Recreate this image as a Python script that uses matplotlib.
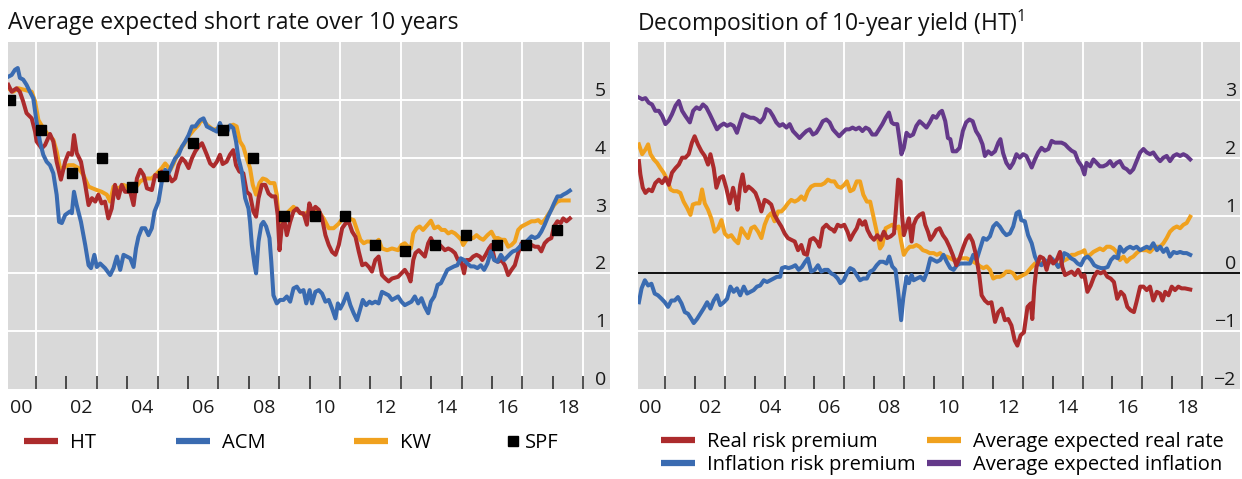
import matplotlib
matplotlib.use('Agg')
import matplotlib.pyplot as plt
from matplotlib.lines import Line2D

plt.rcParams['font.family'] = ['Open Sans', 'DejaVu Sans']
plt.rcParams['mathtext.default'] = 'regular'

# colours
RED = '#AC2B2C'
BLUE = '#3A6BB1'
ORANGE = '#F0A11E'
PURPLE = '#64398A'
BG = '#D9D9D9'

# ---- left panel: average expected short rate over 10 years (%) ----
ht = [(2000.09, 5.26), (2000.20, 5.14), (2000.36, 5.20), (2000.47, 5.14), (2000.58, 4.97), (2000.69, 4.77),
      (2000.86, 4.68), (2000.97, 4.45), (2001.02, 4.28), (2001.19, 4.16), (2001.30, 4.22), (2001.46, 4.41),
      (2001.57, 4.28), (2001.68, 3.93), (2001.82, 3.62), (2001.96, 3.93), (2002.07, 4.08), (2002.18, 4.05),
      (2002.25, 4.39), (2002.34, 4.08), (2002.48, 3.93), (2002.62, 3.53), (2002.73, 3.18), (2002.84, 3.30),
      (2002.95, 3.24), (2003.05, 3.36), (2003.16, 3.21), (2003.27, 3.24), (2003.38, 2.95), (2003.49, 3.12),
      (2003.60, 3.53), (2003.71, 3.30), (2003.82, 3.53), (2003.93, 3.41), (2004.10, 3.41), (2004.21, 3.18),
      (2004.32, 3.64), (2004.43, 3.79), (2004.54, 3.70), (2004.65, 3.47), (2004.81, 3.44), (2004.92, 3.70),
      (2005.03, 3.67), (2005.14, 3.76), (2005.25, 3.62), (2005.36, 3.70), (2005.47, 3.59), (2005.58, 3.64),
      (2005.69, 3.87), (2005.80, 3.99), (2005.91, 3.93), (2006.02, 3.82), (2006.13, 3.99), (2006.24, 4.11),
      (2006.35, 4.19), (2006.46, 4.25), (2006.51, 4.19), (2006.62, 4.05), (2006.73, 3.90), (2006.84, 3.85),
      (2006.95, 3.93), (2007.05, 4.05), (2007.14, 3.89), (2007.27, 3.93), (2007.38, 4.05), (2007.49, 4.13),
      (2007.58, 3.87), (2007.69, 3.76), (2007.82, 3.73), (2007.93, 3.41), (2008.04, 3.36), (2008.15, 3.07),
      (2008.24, 2.98), (2008.32, 3.30), (2008.43, 3.53), (2008.54, 3.53), (2008.65, 3.38), (2008.76, 3.33),
      (2008.87, 3.33), (2008.95, 3.01), (2009.01, 2.40), (2009.09, 2.84), (2009.18, 2.89), (2009.25, 2.66),
      (2009.36, 2.89), (2009.47, 3.07), (2009.58, 3.12), (2009.69, 3.04), (2009.80, 3.04), (2009.91, 2.84),
      (2009.99, 3.21), (2010.08, 3.07), (2010.19, 3.15), (2010.30, 3.10), (2010.41, 2.95), (2010.52, 2.66),
      (2010.63, 2.49), (2010.74, 2.37), (2010.85, 2.32), (2010.96, 2.49), (2011.07, 2.78), (2011.18, 2.86),
      (2011.29, 2.89), (2011.40, 2.72), (2011.51, 2.63), (2011.62, 2.37), (2011.73, 2.14), (2011.84, 2.17),
      (2011.95, 2.11), (2012.05, 2.03), (2012.16, 2.23), (2012.27, 2.29), (2012.38, 1.97), (2012.49, 1.91),
      (2012.60, 1.86), (2012.71, 1.91), (2012.91, 1.94), (2013.02, 2.00), (2013.13, 2.06), (2013.24, 1.97),
      (2013.32, 1.86), (2013.41, 2.23), (2013.48, 2.35), (2013.59, 2.40), (2013.68, 2.35), (2013.79, 2.29),
      (2013.90, 2.52), (2013.99, 2.61), (2014.10, 2.49), (2014.23, 2.52), (2014.34, 2.46), (2014.45, 2.40),
      (2014.56, 2.43), (2014.67, 2.40), (2014.78, 2.35), (2014.88, 2.23), (2014.99, 2.20), (2015.08, 2.00),
      (2015.16, 2.23), (2015.27, 2.23), (2015.38, 2.29), (2015.49, 2.32), (2015.60, 2.29), (2015.68, 2.23),
      (2015.79, 2.32), (2015.90, 2.43), (2015.98, 2.49), (2016.09, 2.23), (2016.20, 2.20), (2016.31, 2.23),
      (2016.42, 2.14), (2016.53, 1.97), (2016.64, 2.06), (2016.75, 2.14), (2016.86, 2.35), (2016.97, 2.52),
      (2017.08, 2.49), (2017.19, 2.52), (2017.30, 2.49), (2017.41, 2.46), (2017.52, 2.46), (2017.62, 2.38),
      (2017.73, 2.52), (2017.84, 2.58), (2017.95, 2.61), (2018.04, 2.81), (2018.15, 2.90), (2018.26, 2.87),
      (2018.34, 2.95), (2018.45, 2.90), (2018.56, 2.95)]

acm = [(2000.09, 5.40), (2000.20, 5.43), (2000.31, 5.52), (2000.40, 5.55), (2000.47, 5.38), (2000.58, 5.35),
       (2000.69, 5.26), (2000.80, 5.14), (2000.91, 5.03), (2001.02, 4.62), (2001.13, 4.28), (2001.24, 4.05),
       (2001.35, 3.93), (2001.46, 3.87), (2001.57, 3.73), (2001.68, 3.36), (2001.76, 2.89), (2001.85, 2.87),
       (2001.96, 3.01), (2002.12, 3.07), (2002.18, 3.04), (2002.25, 3.41), (2002.34, 3.18), (2002.48, 2.89),
       (2002.62, 2.49), (2002.73, 2.14), (2002.81, 2.09), (2002.92, 2.32), (2003.00, 2.11), (2003.11, 2.17),
       (2003.27, 2.09), (2003.44, 1.97), (2003.55, 2.09), (2003.66, 2.29), (2003.77, 2.06), (2003.88, 2.32),
       (2003.99, 2.29), (2004.10, 2.26), (2004.21, 2.11), (2004.29, 2.43), (2004.37, 2.63), (2004.48, 2.78),
       (2004.59, 2.78), (2004.70, 2.66), (2004.81, 2.78), (2004.90, 3.07), (2005.03, 3.24), (2005.14, 3.59),
       (2005.25, 3.79), (2005.36, 3.73), (2005.47, 3.87), (2005.58, 3.99), (2005.69, 4.05), (2005.80, 4.19),
       (2005.91, 4.28), (2006.02, 4.39), (2006.13, 4.54), (2006.24, 4.54), (2006.35, 4.62), (2006.40, 4.65),
       (2006.51, 4.68), (2006.62, 4.54), (2006.73, 4.51), (2006.84, 4.48), (2006.95, 4.45), (2007.05, 4.60),
       (2007.16, 4.45), (2007.27, 4.42), (2007.38, 4.56), (2007.49, 4.51), (2007.58, 4.28), (2007.66, 3.99),
       (2007.77, 3.76), (2007.88, 3.30), (2007.99, 3.12), (2008.04, 2.89), (2008.10, 2.49), (2008.19, 2.14),
       (2008.24, 2.00), (2008.32, 2.55), (2008.41, 2.84), (2008.48, 2.89), (2008.57, 2.81), (2008.68, 2.61),
       (2008.74, 2.20), (2008.81, 1.62), (2008.92, 1.48), (2009.03, 1.54), (2009.14, 1.54), (2009.25, 1.60),
       (2009.36, 1.51), (2009.47, 1.74), (2009.58, 1.77), (2009.69, 1.68), (2009.80, 1.71), (2009.89, 1.48),
       (2010.00, 1.71), (2010.08, 1.48), (2010.19, 1.68), (2010.30, 1.71), (2010.41, 1.65), (2010.52, 1.51),
       (2010.63, 1.54), (2010.74, 1.39), (2010.85, 1.22), (2010.93, 1.48), (2011.01, 1.39), (2011.10, 1.48),
       (2011.23, 1.65), (2011.34, 1.45), (2011.45, 1.31), (2011.56, 1.19), (2011.67, 1.39), (2011.75, 1.54),
       (2011.86, 1.45), (2011.97, 1.51), (2012.05, 1.48), (2012.16, 1.51), (2012.27, 1.48), (2012.38, 1.68),
       (2012.49, 1.65), (2012.60, 1.62), (2012.71, 1.54), (2012.91, 1.60), (2013.02, 1.51), (2013.13, 1.45),
       (2013.24, 1.48), (2013.35, 1.51), (2013.46, 1.60), (2013.57, 1.48), (2013.68, 1.57), (2013.79, 1.42),
       (2013.90, 1.31), (2013.99, 1.51), (2014.10, 1.60), (2014.21, 1.80), (2014.32, 1.83), (2014.42, 1.94),
       (2014.53, 2.06), (2014.64, 2.09), (2014.75, 2.12), (2014.86, 2.14), (2014.97, 2.26), (2015.08, 2.23),
       (2015.19, 2.17), (2015.30, 2.12), (2015.41, 2.12), (2015.52, 2.09), (2015.63, 2.14), (2015.74, 2.06),
       (2015.85, 2.17), (2015.96, 2.38), (2016.07, 2.23), (2016.18, 2.20), (2016.29, 2.32), (2016.40, 2.23),
       (2016.51, 2.29), (2016.62, 2.35), (2016.69, 2.38), (2016.80, 2.40), (2016.97, 2.49), (2017.08, 2.52),
       (2017.19, 2.58), (2017.30, 2.64), (2017.41, 2.61), (2017.52, 2.64), (2017.62, 2.72), (2017.73, 2.84),
       (2017.84, 2.98), (2017.95, 3.10), (2018.04, 3.21), (2018.15, 3.33), (2018.26, 3.33), (2018.34, 3.36),
       (2018.45, 3.39), (2018.56, 3.43)]

kw = [(2000.09, 5.20), (2000.25, 5.14), (2000.42, 5.20), (2000.64, 5.17), (2000.86, 5.14), (2000.97, 4.97),
      (2001.08, 4.65), (2001.24, 4.51), (2001.41, 4.39), (2001.57, 4.31), (2001.68, 4.11), (2001.79, 3.82),
      (2001.90, 3.82), (2002.07, 3.87), (2002.23, 3.87), (2002.40, 3.82), (2002.56, 3.70), (2002.73, 3.50),
      (2002.86, 3.47), (2003.00, 3.44), (2003.16, 3.41), (2003.33, 3.36), (2003.44, 3.24), (2003.55, 3.50),
      (2003.71, 3.47), (2003.88, 3.53), (2003.99, 3.50), (2004.15, 3.36), (2004.26, 3.47), (2004.43, 3.59),
      (2004.59, 3.64), (2004.81, 3.64), (2004.98, 3.73), (2005.14, 3.82), (2005.25, 3.90), (2005.42, 3.79),
      (2005.53, 3.90), (2005.69, 4.11), (2005.86, 4.22), (2006.02, 4.37), (2006.19, 4.48), (2006.35, 4.57),
      (2006.40, 4.62), (2006.51, 4.65), (2006.62, 4.57), (2006.84, 4.48), (2007.00, 4.51), (2007.16, 4.45),
      (2007.33, 4.54), (2007.49, 4.57), (2007.60, 4.54), (2007.71, 4.28), (2007.82, 4.19), (2007.93, 3.99),
      (2008.04, 3.82), (2008.13, 3.53), (2008.24, 3.36), (2008.35, 3.56), (2008.46, 3.64), (2008.57, 3.62),
      (2008.70, 3.56), (2008.84, 3.56), (2008.92, 3.36), (2008.99, 2.89), (2009.09, 2.92), (2009.20, 3.01),
      (2009.31, 3.07), (2009.47, 3.15), (2009.64, 3.07), (2009.80, 3.01), (2009.97, 3.07), (2010.13, 3.10),
      (2010.30, 3.07), (2010.46, 2.95), (2010.63, 2.78), (2010.79, 2.78), (2010.96, 2.86), (2011.12, 2.98),
      (2011.29, 2.95), (2011.45, 2.92), (2011.56, 2.75), (2011.67, 2.58), (2011.78, 2.52), (2011.89, 2.55),
      (2012.00, 2.55), (2012.11, 2.49), (2012.27, 2.58), (2012.38, 2.43), (2012.55, 2.40), (2012.71, 2.43),
      (2012.91, 2.40), (2013.02, 2.49), (2013.13, 2.52), (2013.24, 2.46), (2013.33, 2.43), (2013.41, 2.69),
      (2013.52, 2.78), (2013.62, 2.81), (2013.73, 2.75), (2013.88, 2.84), (2013.99, 2.91), (2014.10, 2.78),
      (2014.23, 2.81), (2014.34, 2.75), (2014.45, 2.75), (2014.56, 2.69), (2014.67, 2.72), (2014.78, 2.69),
      (2014.88, 2.64), (2014.99, 2.58), (2015.05, 2.49), (2015.16, 2.58), (2015.27, 2.61), (2015.38, 2.61),
      (2015.49, 2.66), (2015.60, 2.61), (2015.71, 2.58), (2015.85, 2.66), (2015.98, 2.72), (2016.09, 2.61),
      (2016.20, 2.61), (2016.31, 2.58), (2016.42, 2.58), (2016.53, 2.46), (2016.64, 2.49), (2016.75, 2.55),
      (2016.86, 2.75), (2016.97, 2.81), (2017.08, 2.84), (2017.19, 2.87), (2017.30, 2.90), (2017.41, 2.90),
      (2017.52, 2.92), (2017.62, 2.87), (2017.73, 2.92), (2017.84, 3.01), (2017.95, 3.10), (2018.04, 3.18),
      (2018.15, 3.24), (2018.26, 3.26), (2018.39, 3.26), (2018.52, 3.26)]

spf_dates = [2000.15, 2001.15, 2002.18, 2003.16, 2004.15, 2005.18, 2006.16, 2007.14, 2008.15, 2009.16,
             2010.19, 2011.18, 2012.16, 2013.15, 2014.14, 2015.16, 2016.15, 2017.13, 2018.15]
spf_values = [5.0, 4.48, 3.74, 4.0, 3.5, 3.69, 4.25, 4.48, 4.0, 3.0,
              3.0, 3.0, 2.49, 2.39, 2.49, 2.66, 2.49, 2.49, 2.75]

# ---- right panel: decomposition of 10-year yield (HT), percentage points ----
real_rp = [(2000.11, 1.94), (2000.16, 1.71), (2000.24, 1.48), (2000.33, 1.39), (2000.44, 1.45), (2000.55, 1.42),
           (2000.66, 1.56), (2000.78, 1.62), (2000.89, 1.56), (2001.00, 1.65), (2001.11, 1.53), (2001.22, 1.74),
           (2001.34, 1.82), (2001.45, 1.88), (2001.56, 2.00), (2001.67, 2.00), (2001.78, 2.06), (2001.89, 2.26),
           (2001.98, 2.37), (2002.09, 2.23), (2002.21, 2.11), (2002.32, 2.03), (2002.43, 1.88), (2002.51, 2.06),
           (2002.62, 1.82), (2002.71, 1.48), (2002.82, 1.65), (2002.93, 1.68), (2003.04, 1.48), (2003.16, 1.21),
           (2003.27, 1.48), (2003.35, 1.30), (2003.42, 1.10), (2003.51, 1.53), (2003.59, 1.71), (2003.68, 1.42),
           (2003.79, 1.50), (2003.91, 1.45), (2004.02, 1.39), (2004.13, 1.24), (2004.22, 1.07), (2004.33, 1.27),
           (2004.44, 1.24), (2004.55, 1.19), (2004.66, 1.01), (2004.78, 0.90), (2004.89, 0.81), (2005.00, 0.69),
           (2005.11, 0.61), (2005.22, 0.58), (2005.34, 0.55), (2005.45, 0.40), (2005.56, 0.49), (2005.65, 0.34),
           (2005.75, 0.32), (2005.86, 0.58), (2005.97, 0.61), (2006.08, 0.55), (2006.17, 0.46), (2006.28, 0.78),
           (2006.40, 0.84), (2006.51, 0.78), (2006.62, 0.75), (2006.67, 0.72), (2006.78, 0.84), (2006.89, 0.81),
           (2007.00, 0.84), (2007.11, 0.72), (2007.20, 0.58), (2007.31, 0.69), (2007.42, 0.78), (2007.51, 0.92),
           (2007.61, 0.84), (2007.70, 0.90), (2007.78, 0.75), (2007.89, 0.64), (2008.00, 0.58), (2008.11, 0.66),
           (2008.22, 0.58), (2008.33, 0.72), (2008.44, 0.61), (2008.56, 0.64), (2008.67, 0.69), (2008.74, 1.13),
           (2008.81, 1.62), (2008.89, 1.59), (2008.94, 1.01), (2009.00, 0.66), (2009.09, 0.81), (2009.17, 0.95),
           (2009.26, 0.55), (2009.33, 0.84), (2009.42, 0.95), (2009.53, 1.01), (2009.64, 1.04), (2009.72, 0.84),
           (2009.81, 0.72), (2009.89, 0.58), (2010.00, 0.66), (2010.09, 0.75), (2010.20, 0.78), (2010.31, 0.66),
           (2010.42, 0.58), (2010.53, 0.46), (2010.64, 0.32), (2010.76, 0.14), (2010.87, 0.26), (2010.98, 0.43),
           (2011.09, 0.58), (2011.20, 0.66), (2011.31, 0.55), (2011.42, 0.32), (2011.53, -0.03), (2011.61, -0.38),
           (2011.72, -0.47), (2011.83, -0.52), (2011.94, -0.50), (2012.06, -0.84), (2012.17, -0.67), (2012.28, -0.61),
           (2012.39, -0.81), (2012.50, -0.79), (2012.61, -0.90), (2012.72, -1.16), (2012.81, -1.25), (2012.92, -1.07),
           (2013.03, -1.02), (2013.15, -0.58), (2013.26, -0.52), (2013.31, -0.79), (2013.38, -0.23), (2013.45, 0.11),
           (2013.57, 0.29), (2013.68, 0.26), (2013.79, 0.06), (2013.90, 0.29), (2014.01, 0.17), (2014.13, 0.23),
           (2014.24, 0.37), (2014.32, 0.11), (2014.41, -0.03), (2014.52, 0.00), (2014.63, 0.03), (2014.74, -0.03),
           (2014.85, 0.06), (2014.97, -0.06), (2015.06, -0.03), (2015.16, -0.32), (2015.27, -0.21), (2015.38, -0.06),
           (2015.49, 0.03), (2015.60, 0.00), (2015.72, 0.03), (2015.83, -0.06), (2015.94, -0.09), (2016.05, -0.15),
           (2016.16, -0.44), (2016.28, -0.32), (2016.39, -0.38), (2016.50, -0.58), (2016.61, -0.64), (2016.72, -0.67),
           (2016.81, -0.49), (2016.93, -0.23), (2017.04, -0.23), (2017.15, -0.29), (2017.26, -0.23), (2017.37, -0.47),
           (2017.49, -0.32), (2017.60, -0.35), (2017.68, -0.47), (2017.77, -0.32), (2017.88, -0.38), (2017.99, -0.23),
           (2018.10, -0.29), (2018.21, -0.23), (2018.32, -0.26), (2018.43, -0.26), (2018.61, -0.28)]

infl_rp = [(2000.11, -0.50), (2000.20, -0.26), (2000.31, -0.12), (2000.42, -0.21), (2000.53, -0.18), (2000.64, -0.35),
           (2000.75, -0.38), (2000.87, -0.44), (2000.98, -0.50), (2001.09, -0.58), (2001.20, -0.47), (2001.31, -0.47),
           (2001.42, -0.41), (2001.54, -0.52), (2001.65, -0.67), (2001.76, -0.70), (2001.87, -0.79), (2001.95, -0.86),
           (2002.06, -0.79), (2002.17, -0.70), (2002.28, -0.61), (2002.40, -0.50), (2002.51, -0.61), (2002.62, -0.47),
           (2002.73, -0.38), (2002.84, -0.55), (2002.96, -0.50), (2003.07, -0.44), (2003.18, -0.23), (2003.29, -0.32),
           (2003.40, -0.26), (2003.51, -0.38), (2003.63, -0.23), (2003.74, -0.35), (2003.85, -0.32), (2003.96, -0.29),
           (2004.07, -0.23), (2004.18, -0.21), (2004.30, -0.12), (2004.41, -0.15), (2004.52, -0.12), (2004.63, -0.09),
           (2004.74, -0.06), (2004.85, -0.06), (2004.91, 0.09), (2005.02, 0.11), (2005.13, 0.09), (2005.25, 0.11),
           (2005.36, 0.14), (2005.47, 0.06), (2005.58, 0.11), (2005.69, 0.20), (2005.78, 0.26), (2005.89, 0.03),
           (2006.01, 0.06), (2006.12, 0.14), (2006.23, 0.03), (2006.34, 0.06), (2006.45, 0.06), (2006.56, 0.00),
           (2006.67, -0.03), (2006.78, -0.09), (2006.87, -0.17), (2006.98, -0.12), (2007.09, 0.00), (2007.20, 0.09),
           (2007.31, 0.06), (2007.42, -0.03), (2007.53, -0.12), (2007.64, -0.09), (2007.76, -0.09), (2007.87, 0.03),
           (2007.98, 0.06), (2008.09, 0.14), (2008.20, 0.20), (2008.31, 0.20), (2008.42, 0.17), (2008.51, 0.29),
           (2008.61, 0.12), (2008.72, 0.06), (2008.81, -0.32), (2008.91, -0.81), (2008.98, -0.43), (2009.09, -0.06),
           (2009.17, -0.17), (2009.26, -0.03), (2009.33, -0.12), (2009.44, -0.09), (2009.56, -0.06), (2009.67, -0.12),
           (2009.78, 0.03), (2009.89, 0.26), (2010.00, 0.23), (2010.11, 0.20), (2010.22, 0.23), (2010.33, 0.32),
           (2010.44, 0.20), (2010.56, 0.09), (2010.67, 0.06), (2010.78, 0.14), (2010.89, 0.17), (2011.00, 0.17),
           (2011.11, 0.17), (2011.22, 0.17), (2011.33, 0.32), (2011.44, 0.23), (2011.56, 0.43), (2011.67, 0.61),
           (2011.78, 0.58), (2011.89, 0.64), (2012.00, 0.81), (2012.11, 0.87), (2012.22, 0.81), (2012.33, 0.72),
           (2012.44, 0.66), (2012.56, 0.69), (2012.67, 0.81), (2012.78, 1.04), (2012.87, 1.07), (2012.94, 0.92),
           (2013.06, 0.90), (2013.17, 0.66), (2013.29, 0.52), (2013.40, 0.29), (2013.51, 0.17), (2013.62, 0.14),
           (2013.73, 0.23), (2013.85, 0.17), (2013.96, 0.26), (2014.07, 0.20), (2014.18, 0.11), (2014.29, 0.17),
           (2014.38, 0.35), (2014.50, 0.32), (2014.61, 0.26), (2014.72, 0.23), (2014.83, 0.17), (2014.94, 0.14),
           (2015.06, 0.26), (2015.17, 0.29), (2015.28, 0.23), (2015.39, 0.14), (2015.50, 0.11), (2015.62, 0.09),
           (2015.73, 0.09), (2015.84, 0.11), (2015.95, 0.23), (2016.06, 0.29), (2016.18, 0.26), (2016.25, 0.46),
           (2016.37, 0.37), (2016.48, 0.43), (2016.59, 0.46), (2016.70, 0.43), (2016.81, 0.46), (2016.93, 0.40),
           (2017.04, 0.43), (2017.15, 0.46), (2017.26, 0.43), (2017.37, 0.52), (2017.49, 0.40), (2017.60, 0.46),
           (2017.71, 0.37), (2017.82, 0.43), (2017.93, 0.29), (2018.05, 0.37), (2018.16, 0.35), (2018.27, 0.37),
           (2018.38, 0.35), (2018.49, 0.35), (2018.61, 0.32)]

exp_real = [(2000.11, 2.23), (2000.22, 2.06), (2000.33, 2.14), (2000.42, 2.23), (2000.50, 2.06), (2000.61, 1.97),
            (2000.72, 1.91), (2000.83, 1.82), (2000.94, 1.74), (2001.06, 1.62), (2001.17, 1.45), (2001.28, 1.42),
            (2001.39, 1.42), (2001.50, 1.39), (2001.61, 1.24), (2001.73, 1.13), (2001.84, 1.01), (2001.92, 1.19),
            (2002.03, 1.21), (2002.14, 1.21), (2002.23, 1.45), (2002.32, 1.21), (2002.43, 1.10), (2002.54, 0.95),
            (2002.65, 0.72), (2002.77, 0.78), (2002.88, 0.92), (2002.99, 0.69), (2003.10, 0.63), (2003.21, 0.66),
            (2003.32, 0.58), (2003.44, 0.52), (2003.55, 0.78), (2003.66, 0.69), (2003.77, 0.61), (2003.88, 0.78),
            (2003.99, 0.81), (2004.11, 0.72), (2004.22, 0.61), (2004.33, 0.84), (2004.44, 0.98), (2004.55, 1.04),
            (2004.66, 0.90), (2004.78, 1.07), (2004.89, 1.07), (2005.00, 1.13), (2005.11, 1.21), (2005.22, 1.27),
            (2005.34, 1.24), (2005.45, 1.27), (2005.56, 1.33), (2005.67, 1.27), (2005.78, 1.42), (2005.89, 1.50),
            (2006.01, 1.53), (2006.12, 1.53), (2006.23, 1.53), (2006.34, 1.56), (2006.45, 1.62), (2006.56, 1.59),
            (2006.67, 1.59), (2006.78, 1.50), (2006.89, 1.48), (2007.00, 1.53), (2007.09, 1.59), (2007.20, 1.42),
            (2007.31, 1.45), (2007.42, 1.59), (2007.53, 1.59), (2007.64, 1.36), (2007.76, 1.24), (2007.87, 1.24),
            (2007.98, 0.98), (2008.09, 0.72), (2008.20, 0.43), (2008.28, 0.49), (2008.39, 0.78), (2008.50, 0.81),
            (2008.61, 0.84), (2008.72, 0.78), (2008.83, 0.81), (2008.91, 0.55), (2009.00, 0.32), (2009.09, 0.40),
            (2009.20, 0.46), (2009.31, 0.46), (2009.42, 0.49), (2009.53, 0.46), (2009.64, 0.40), (2009.76, 0.38),
            (2009.87, 0.35), (2010.00, 0.35), (2010.11, 0.32), (2010.22, 0.35), (2010.33, 0.29), (2010.44, 0.29),
            (2010.56, 0.26), (2010.67, 0.23), (2010.78, 0.23), (2010.89, 0.26), (2011.00, 0.26), (2011.11, 0.26),
            (2011.22, 0.23), (2011.33, 0.20), (2011.44, 0.17), (2011.56, 0.12), (2011.67, 0.09), (2011.78, 0.12),
            (2011.89, 0.06), (2012.00, -0.09), (2012.11, -0.06), (2012.22, -0.06), (2012.33, -0.03), (2012.44, 0.03),
            (2012.56, 0.03), (2012.67, 0.00), (2012.78, -0.09), (2012.89, -0.06), (2013.00, -0.03), (2013.11, 0.00),
            (2013.29, 0.11), (2013.40, 0.17), (2013.51, 0.20), (2013.62, 0.17), (2013.73, 0.20), (2013.85, 0.17),
            (2013.96, 0.23), (2014.07, 0.20), (2014.18, 0.11), (2014.29, 0.20), (2014.41, 0.23), (2014.52, 0.26),
            (2014.63, 0.32), (2014.74, 0.32), (2014.85, 0.35), (2014.97, 0.37), (2015.06, 0.40), (2015.13, 0.29),
            (2015.25, 0.32), (2015.36, 0.37), (2015.47, 0.40), (2015.58, 0.43), (2015.69, 0.40), (2015.81, 0.46),
            (2015.92, 0.46), (2016.03, 0.43), (2016.14, 0.37), (2016.25, 0.23), (2016.37, 0.29), (2016.48, 0.20),
            (2016.59, 0.26), (2016.70, 0.29), (2016.81, 0.35), (2016.93, 0.40), (2017.04, 0.40), (2017.15, 0.40),
            (2017.26, 0.37), (2017.37, 0.43), (2017.49, 0.46), (2017.60, 0.46), (2017.71, 0.52), (2017.82, 0.61),
            (2017.93, 0.72), (2018.05, 0.78), (2018.16, 0.81), (2018.27, 0.78), (2018.38, 0.84), (2018.49, 0.87),
            (2018.61, 0.98)]

exp_infl = [(2000.11, 3.04), (2000.22, 3.01), (2000.33, 3.03), (2000.44, 2.95), (2000.55, 2.92), (2000.66, 2.81),
            (2000.78, 2.81), (2000.89, 2.72), (2001.00, 2.58), (2001.11, 2.64), (2001.22, 2.75), (2001.34, 2.90),
            (2001.45, 2.98), (2001.56, 2.81), (2001.67, 2.72), (2001.82, 2.61), (2001.93, 2.81), (2002.04, 2.87),
            (2002.15, 2.84), (2002.26, 2.92), (2002.37, 2.87), (2002.49, 2.75), (2002.60, 2.63), (2002.73, 2.49),
            (2002.84, 2.55), (2002.96, 2.59), (2003.07, 2.55), (2003.18, 2.58), (2003.29, 2.55), (2003.40, 2.43),
            (2003.51, 2.61), (2003.60, 2.75), (2003.72, 2.72), (2003.85, 2.69), (2003.96, 2.69), (2004.07, 2.66),
            (2004.18, 2.61), (2004.30, 2.69), (2004.39, 2.84), (2004.50, 2.81), (2004.61, 2.72), (2004.72, 2.61),
            (2004.83, 2.55), (2004.94, 2.58), (2005.06, 2.52), (2005.17, 2.58), (2005.28, 2.46), (2005.39, 2.40),
            (2005.50, 2.34), (2005.61, 2.40), (2005.73, 2.46), (2005.84, 2.49), (2005.95, 2.40), (2006.06, 2.43),
            (2006.17, 2.52), (2006.28, 2.63), (2006.40, 2.66), (2006.51, 2.61), (2006.62, 2.49), (2006.67, 2.46),
            (2006.83, 2.37), (2006.94, 2.43), (2007.06, 2.49), (2007.17, 2.49), (2007.28, 2.52), (2007.39, 2.49),
            (2007.50, 2.52), (2007.61, 2.46), (2007.72, 2.52), (2007.83, 2.49), (2007.94, 2.40), (2008.06, 2.40),
            (2008.17, 2.49), (2008.28, 2.58), (2008.39, 2.69), (2008.50, 2.78), (2008.59, 2.61), (2008.67, 2.58),
            (2008.78, 2.58), (2008.87, 2.26), (2008.92, 2.06), (2009.00, 2.17), (2009.09, 2.43), (2009.20, 2.37),
            (2009.31, 2.40), (2009.42, 2.55), (2009.53, 2.63), (2009.64, 2.58), (2009.76, 2.52), (2009.87, 2.61),
            (2009.98, 2.72), (2010.09, 2.69), (2010.20, 2.78), (2010.28, 2.81), (2010.39, 2.63), (2010.48, 2.34),
            (2010.56, 2.32), (2010.64, 2.11), (2010.76, 2.11), (2010.87, 2.17), (2010.98, 2.46), (2011.09, 2.61),
            (2011.20, 2.66), (2011.31, 2.63), (2011.42, 2.46), (2011.53, 2.37), (2011.64, 2.23), (2011.72, 2.03),
            (2011.83, 2.11), (2011.94, 2.06), (2012.06, 2.11), (2012.17, 2.26), (2012.24, 2.32), (2012.33, 2.08),
            (2012.44, 1.91), (2012.56, 1.82), (2012.67, 1.91), (2012.78, 2.06), (2012.89, 2.00), (2013.00, 2.06),
            (2013.11, 2.03), (2013.29, 1.83), (2013.40, 1.97), (2013.51, 2.09), (2013.62, 2.17), (2013.73, 2.12),
            (2013.85, 2.15), (2013.96, 2.29), (2014.07, 2.26), (2014.18, 2.26), (2014.29, 2.26), (2014.41, 2.23),
            (2014.52, 2.17), (2014.63, 2.12), (2014.74, 2.09), (2014.85, 1.94), (2014.97, 1.85), (2015.06, 1.71),
            (2015.13, 1.91), (2015.25, 1.85), (2015.36, 1.97), (2015.47, 1.91), (2015.58, 1.85), (2015.69, 1.85),
            (2015.81, 1.88), (2015.92, 1.94), (2016.03, 1.85), (2016.14, 1.91), (2016.25, 1.94), (2016.37, 1.83),
            (2016.48, 1.80), (2016.59, 1.74), (2016.70, 1.80), (2016.81, 1.94), (2016.93, 2.09), (2017.04, 2.15),
            (2017.15, 2.09), (2017.26, 2.06), (2017.37, 2.09), (2017.49, 2.00), (2017.60, 1.94), (2017.71, 2.00),
            (2017.82, 2.03), (2017.93, 1.94), (2018.05, 2.03), (2018.16, 2.06), (2018.27, 2.03), (2018.38, 2.06),
            (2018.49, 2.03), (2018.61, 1.97)]

year_labels = ['00', '02', '04', '06', '08', '10', '12', '14', '16', '18']
left_yticks = [0, 1, 2, 3, 4, 5]
right_yticks = [-2, -1, 0, 1, 2, 3]

FS = 14          # tick labels
LEG_FS = 14.5    # legend
TITLE_FS = 16.5
W, H = 1242, 479


def unzip(pairs):
    return [p[0] for p in pairs], [p[1] for p in pairs]


def style_panel(ax, xmax, ylim, yticks, zero_line=False):
    ax.set_facecolor(BG)
    for s in ax.spines.values():
        s.set_visible(False)
    ax.set_xlim(2000.08, xmax)
    ax.set_ylim(*ylim)
    # white grid: odd years vertically, whole numbers horizontally
    for yr in range(2001, 2020, 2):
        ax.axvline(yr, color='white', lw=1.4, zorder=1)
    for y in yticks[1:]:
        if zero_line and y == 0:
            ax.axhline(0, color='black', lw=1.3, zorder=1.5)
        else:
            ax.axhline(y, color='white', lw=1.4, zorder=1)

    # year tick marks inside, labels centred between them
    ax.set_xticks(range(2001, 2020))
    ax.set_xticks([2000.5 + 2 * i for i in range(len(year_labels))], minor=True)
    ax.set_xticklabels(year_labels, minor=True)
    ax.tick_params(axis='x', which='major', direction='in', length=9.5, width=1.1,
                   color='#222222', labelbottom=False)
    ax.tick_params(axis='x', which='minor', length=0, pad=7.5, labelsize=FS, labelcolor='#1a1a1a')

    ax.yaxis.tick_right()
    ax.set_yticks(yticks)
    ax.set_yticklabels([str(v).replace('-', '\u2212') for v in yticks])
    ax.tick_params(axis='y', length=0, pad=-3, labelsize=FS, labelcolor='#1a1a1a')
    for lab in ax.get_yticklabels():
        lab.set_horizontalalignment('right')
        lab.set_verticalalignment('bottom')


fig = plt.figure(figsize=(W / 100, H / 100), dpi=100)
ax1 = fig.add_axes([8 / W, 90 / H, 602 / W, 347 / H])
ax2 = fig.add_axes([638 / W, 90 / H, 602 / W, 347 / H])

style_panel(ax1, 2019.88, (0, 6), left_yticks)
style_panel(ax2, 2020.28, (-2, 4), right_yticks, zero_line=True)

LW = 2.9
t, v = unzip(kw)
ax1.plot(t, v, color=ORANGE, lw=LW, zorder=3)
t, v = unzip(ht)
ax1.plot(t, v, color=RED, lw=LW, zorder=4)
t, v = unzip(acm)
ax1.plot(t, v, color=BLUE, lw=LW, zorder=5)
ax1.plot(spf_dates, spf_values, 's', color='black', ms=7.8, zorder=6)

t, v = unzip(exp_infl)
ax2.plot(t, v, color=PURPLE, lw=LW, zorder=3)
t, v = unzip(exp_real)
ax2.plot(t, v, color=ORANGE, lw=LW, zorder=3)
t, v = unzip(infl_rp)
ax2.plot(t, v, color=BLUE, lw=LW, zorder=4)
t, v = unzip(real_rp)
ax2.plot(t, v, color=RED, lw=LW, zorder=5)

fig.text(8 / W, 1 - 23 / H, 'Average expected short rate over 10 years', fontsize=TITLE_FS,
         ha='left', va='center', color='#111111')
fig.text(637 / W, 1 - 23 / H, 'Decomposition of 10-year yield (HT)$^{1}$', fontsize=TITLE_FS,
         ha='left', va='center', color='#111111')


def legend_entry(handle, label, x, y, hl=1.7, pad=0.6):
    fig.legend(handles=[handle], labels=[label], loc='center left',
               bbox_to_anchor=(x / W, 1 - y / H), frameon=False, borderpad=0,
               borderaxespad=0, handlelength=hl, handletextpad=pad, fontsize=LEG_FS)


def line_handle(c):
    return Line2D([], [], color=c, lw=4.5, solid_capstyle='butt')


legend_entry(line_handle(RED), 'HT', 24, 443)
legend_entry(line_handle(BLUE), 'ACM', 176, 443)
legend_entry(line_handle(ORANGE), 'KW', 354, 443)
legend_entry(Line2D([], [], ls='none', marker='s', color='black', ms=7.5), 'SPF', 507, 443, hl=0.6, pad=0.3)

legend_entry(line_handle(RED), 'Real risk premium', 661, 442)
legend_entry(line_handle(ORANGE), 'Average expected real rate', 927, 442)
legend_entry(line_handle(BLUE), 'Inflation risk premium', 661, 465)
legend_entry(line_handle(PURPLE), 'Average expected inflation', 927, 465)

fig.savefig('out.png', dpi=100)
